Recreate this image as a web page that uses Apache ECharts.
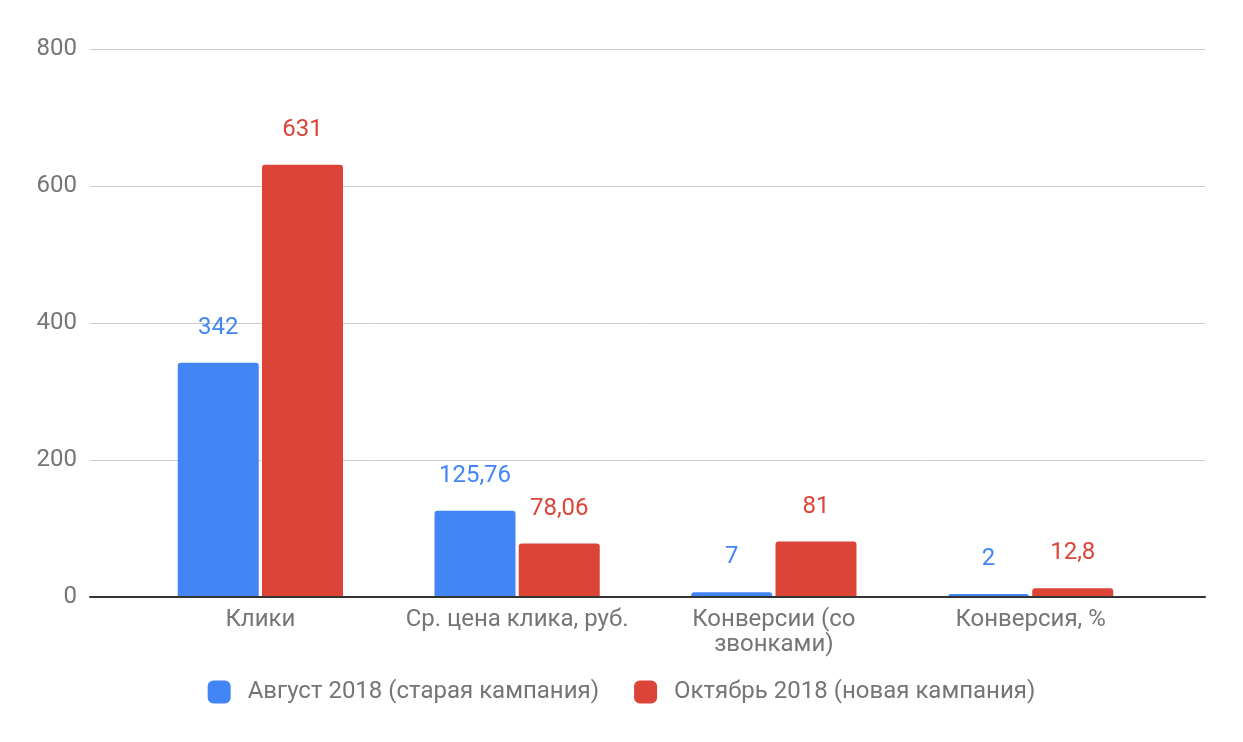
<!DOCTYPE html>
<html>
<head>
<meta charset="utf-8">
<script src="https://cdn.jsdelivr.net/npm/echarts@6/dist/echarts.min.js"></script>
<style>html,body{margin:0;padding:0;background:#fff;}#c{width:1243px;height:742px;}</style>
</head>
<body>
<div id="c"></div>
<script>
var categories = ['Клики', 'Ср. цена клика, руб.', 'Конверсии (со\nзвонками)', 'Конверсия, %'];
var seriesNames = ['Август 2018 (старая кампания)', 'Октябрь 2018 (новая кампания)'];
var august = [342, 125.76, 7, 2];
var october = [631, 78.06, 81, 12.8];
var yTicks = { min: 0, max: 800, interval: 200 };
var colors = ['#4285f4', '#db4437'];

var chart = echarts.init(document.getElementById('c'));
function fmt(p) { return String(p.value).replace('.', ','); }
function barSeries(name, data, color) {
  return {
    name: name, type: 'bar', data: data, xAxisIndex: 1, yAxisIndex: 1,
    barWidth: 81, barGap: '4%', barMinHeight: 3,
    itemStyle: { color: color, borderRadius: [3, 3, 0, 0] },
    label: { show: true, position: 'top', distance: 23, color: color, fontSize: 24, fontFamily: 'Roboto', formatter: fmt }
  };
}
chart.setOption({
  animation: false,
  color: colors,
  textStyle: { fontFamily: 'Roboto' },
  grid: [
    { left: 90, right: 38, top: 49, bottom: 145 },
    { left: 132, right: 84, top: 49, bottom: 145 }
  ],
  xAxis: [
    { type: 'value', gridIndex: 0, min: 0, max: 1, axisLine: { show: true, lineStyle: { color: '#333', width: 2 } },
      axisTick: { show: false }, axisLabel: { show: false }, splitLine: { show: false }, z: 5 },
    { type: 'category', gridIndex: 1, data: categories, axisLine: { show: false }, axisTick: { show: false },
      axisLabel: { color: '#757575', fontSize: 24, fontFamily: 'Roboto', margin: 10, lineHeight: 25, interval: 0, overflow: 'none' } }
  ],
  yAxis: [
    { type: 'value', gridIndex: 0, min: yTicks.min, max: yTicks.max, interval: yTicks.interval,
      axisLine: { show: false }, axisTick: { show: false },
      axisLabel: { color: '#757575', fontSize: 24, fontFamily: 'Roboto', margin: 13 },
      splitLine: { lineStyle: { color: '#cccccc', width: 1 } } },
    { type: 'value', gridIndex: 1, min: yTicks.min, max: yTicks.max, interval: yTicks.interval, show: false,
      splitLine: { show: false } }
  ],
  legend: {
    bottom: 33, left: 'center', itemWidth: 23, itemHeight: 23, itemGap: 35, icon: 'roundRect',
    textStyle: { color: '#757575', fontSize: 24, fontFamily: 'Roboto', padding: [0, 0, 0, 12] },
    data: seriesNames
  },
  series: [
    barSeries(seriesNames[0], august, colors[0]),
    barSeries(seriesNames[1], october, colors[1])
  ]
});
</script>
</body>
</html>
